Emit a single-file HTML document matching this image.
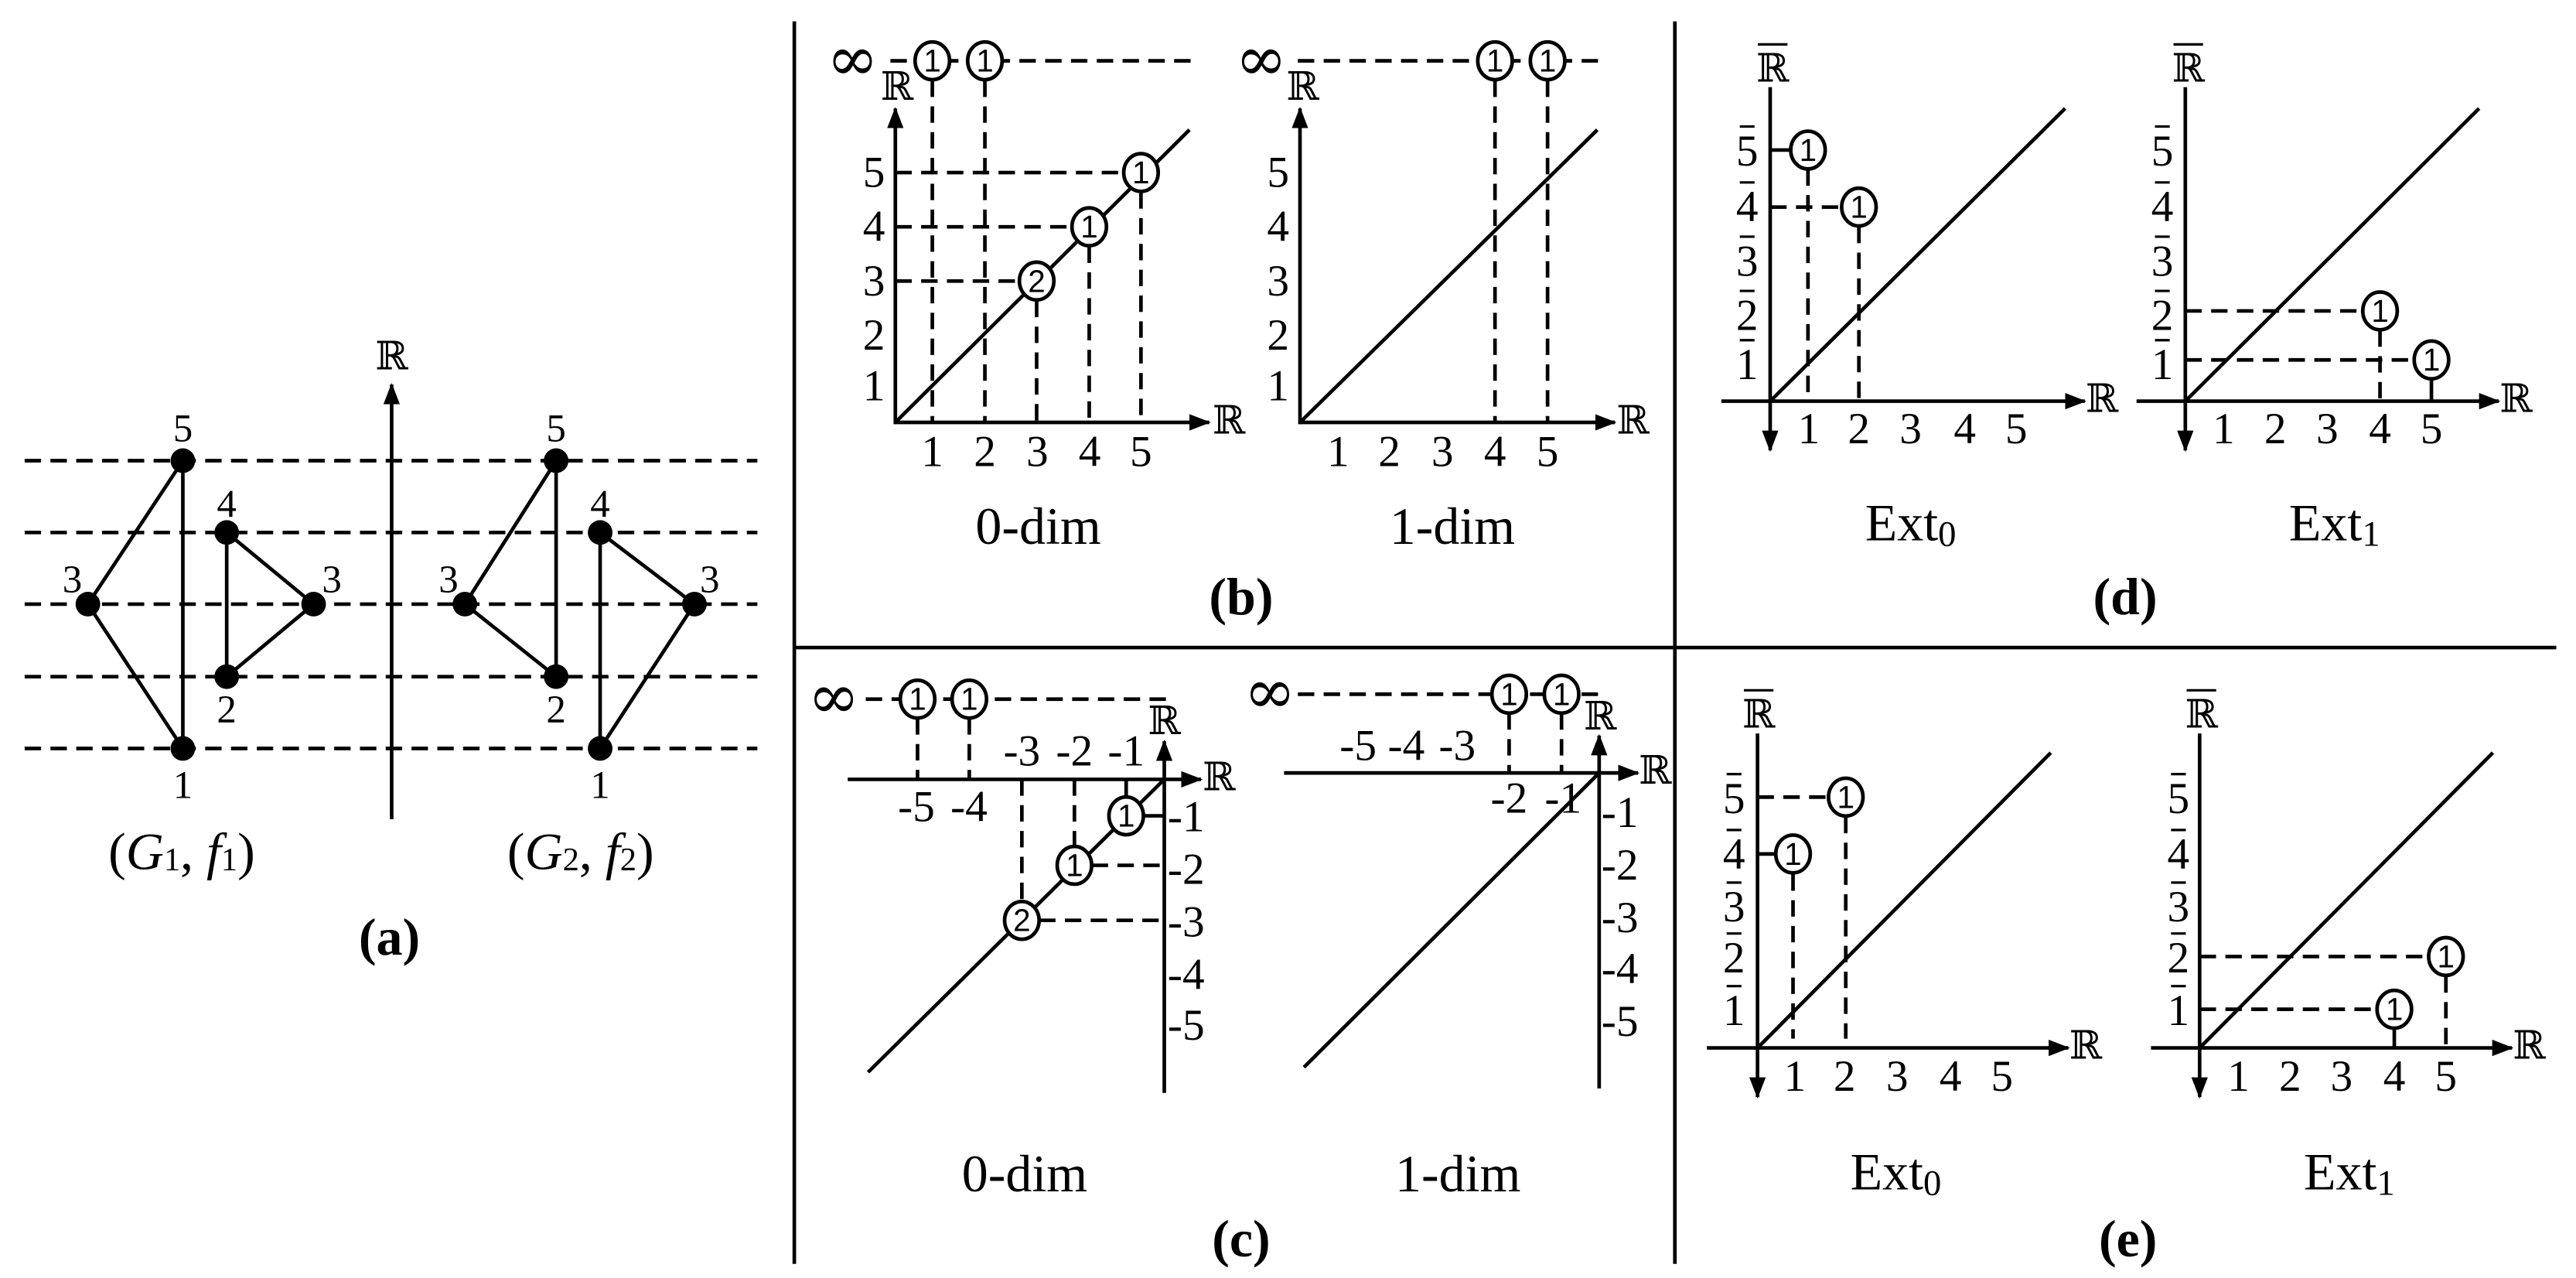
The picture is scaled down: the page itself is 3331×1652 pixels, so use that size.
<!DOCTYPE html>
<html><head><meta charset="utf-8"><style>
html,body{margin:0;padding:0;background:#fff;}
svg{display:block;}
.s{stroke:#000;stroke-width:2.2;fill:none;}
.d{stroke:#000;stroke-width:2.2;fill:none;stroke-dasharray:10 5.7;}
.t{font-family:"Liberation Serif","DejaVu Serif",serif;font-size:27px;text-anchor:middle;dominant-baseline:central;fill:#000;}
.r{font-family:"DejaVu Serif","Liberation Serif",serif;font-size:24px;text-anchor:middle;dominant-baseline:central;}
.c{fill:#fff;stroke:#000;stroke-width:2.2;}
.cn{font-family:"Liberation Sans","DejaVu Sans",sans-serif;font-size:19px;text-anchor:middle;dominant-baseline:central;}
.lb{font-family:"Liberation Serif","DejaVu Serif",serif;font-size:32px;text-anchor:middle;dominant-baseline:central;}
.bd{font-weight:bold;}
.inf{font-family:"DejaVu Serif",serif;font-size:38px;text-anchor:middle;dominant-baseline:central;}
</style></head><body>
<svg width="3331" height="1652" viewBox="0 0 1568 777.6" preserveAspectRatio="none" xmlns="http://www.w3.org/2000/svg">
<defs>
<marker id="ar" viewBox="0 0 13 10" refX="12" refY="5" markerWidth="13" markerHeight="10" markerUnits="userSpaceOnUse" orient="auto"><path d="M0,0 L13,5 L0,10 Z" fill="#000"/></marker>
</defs>

<line class="s" x1="483.5" y1="13" x2="483.5" y2="769"/>
<line class="s" x1="1019.5" y1="13" x2="1019.5" y2="769"/>
<line class="s" x1="483.5" y1="394" x2="1556" y2="394"/>

<!-- (a) -->
<g>
<line class="d" x1="15" y1="280.3" x2="461" y2="280.3"/>
<line class="d" x1="15" y1="324" x2="461" y2="324"/>
<line class="d" x1="15" y1="367.6" x2="461" y2="367.6"/>
<line class="d" x1="15" y1="411.7" x2="461" y2="411.7"/>
<line class="d" x1="15" y1="455.4" x2="461" y2="455.4"/>
<line class="s" x1="238.4" y1="498.5" x2="238.4" y2="234" marker-end="url(#ar)"/>
<text class="r" x="238.4" y="217">ℝ</text>
<polyline class="s" points="111.3,280.3 53.5,367.6 111.3,455.4 111.3,280.3"/>
<polyline class="s" points="138,324 190.9,367.6 138,411.7 138,324"/>
<circle cx="111.3" cy="280.3" r="7.5"/><circle cx="111.3" cy="455.4" r="7.5"/>
<circle cx="53.5" cy="367.6" r="7.5"/><circle cx="138" cy="324" r="7.5"/>
<circle cx="138" cy="411.7" r="7.5"/><circle cx="190.9" cy="367.6" r="7.5"/>
<text class="t" style="font-size:24px" x="111.3" y="261">5</text>
<text class="t" style="font-size:24px" x="138" y="307">4</text>
<text class="t" style="font-size:24px" x="44" y="353">3</text>
<text class="t" style="font-size:24px" x="202" y="353">3</text>
<text class="t" style="font-size:24px" x="138" y="432">2</text>
<text class="t" style="font-size:24px" x="111.3" y="478">1</text>
<polyline class="s" points="338.5,280.3 283,367.6 338.5,411.7 338.5,280.3"/>
<polyline class="s" points="365.3,324 422.7,367.6 365.3,455.4 365.3,324"/>
<circle cx="338.5" cy="280.3" r="7.5"/><circle cx="338.5" cy="411.7" r="7.5"/>
<circle cx="283" cy="367.6" r="7.5"/><circle cx="365.3" cy="324" r="7.5"/>
<circle cx="365.3" cy="455.4" r="7.5"/><circle cx="422.7" cy="367.6" r="7.5"/>
<text class="t" style="font-size:24px" x="338.5" y="261">5</text>
<text class="t" style="font-size:24px" x="365.3" y="307">4</text>
<text class="t" style="font-size:24px" x="273" y="353">3</text>
<text class="t" style="font-size:24px" x="432" y="353">3</text>
<text class="t" style="font-size:24px" x="338.5" y="432">2</text>
<text class="t" style="font-size:24px" x="365.3" y="478">1</text>
<text class="lb" x="110.6" y="518">(<tspan font-style="italic">G</tspan><tspan font-size="20" dy="5">1</tspan><tspan dy="-5">, </tspan><tspan font-style="italic">f</tspan><tspan font-size="20" dy="5">1</tspan><tspan dy="-5">)</tspan></text>
<text class="lb" x="353.4" y="518">(<tspan font-style="italic">G</tspan><tspan font-size="20" dy="5">2</tspan><tspan dy="-5">, </tspan><tspan font-style="italic">f</tspan><tspan font-size="20" dy="5">2</tspan><tspan dy="-5">)</tspan></text>
<text class="lb bd" x="237" y="570">(a)</text>
</g>

<!-- (b) 0-dim -->
<g>
<line class="d" x1="542" y1="37" x2="728" y2="37"/>
<text class="inf" x="519" y="36">∞</text>
<line class="d" x1="567.5" y1="49" x2="567.5" y2="257"/>
<line class="d" x1="599.5" y1="49" x2="599.5" y2="257"/>
<line class="d" x1="545" y1="105" x2="684" y2="105"/>
<line class="d" x1="545" y1="138" x2="652" y2="138"/>
<line class="d" x1="545" y1="171" x2="620" y2="171"/>
<line class="d" x1="694.5" y1="117" x2="694.5" y2="257"/>
<line class="d" x1="663" y1="150" x2="663" y2="257"/>
<line class="d" x1="631" y1="183" x2="631" y2="257"/>
<line class="s" x1="545" y1="257" x2="724" y2="79"/>
<line class="s" x1="545" y1="258" x2="545" y2="66" marker-end="url(#ar)"/>
<line class="s" x1="544" y1="257" x2="736" y2="257" marker-end="url(#ar)"/>
<text class="r" x="546" y="53">ℝ</text>
<text class="r" x="748" y="256">ℝ</text>
<ellipse class="c" cx="567.5" cy="37" rx="10.5" ry="11.5"/><text class="cn" x="567.5" y="37">1</text>
<ellipse class="c" cx="599.5" cy="37" rx="10.5" ry="11.5"/><text class="cn" x="599.5" y="37">1</text>
<ellipse class="c" cx="694.5" cy="105" rx="10.5" ry="11.5"/><text class="cn" x="694.5" y="105">1</text>
<ellipse class="c" cx="663" cy="138" rx="10.5" ry="11.5"/><text class="cn" x="663" y="138">1</text>
<ellipse class="c" cx="631" cy="171" rx="10.5" ry="11.5"/><text class="cn" x="631" y="171">2</text>
<text class="t" x="567.5" y="275">1</text><text class="t" x="599.5" y="275">2</text><text class="t" x="631.4" y="275">3</text><text class="t" x="663.3" y="275">4</text><text class="t" x="694.5" y="275">5</text>
<text class="t" x="532" y="105">5</text><text class="t" x="532" y="138">4</text><text class="t" x="532" y="171">3</text><text class="t" x="532" y="204">2</text><text class="t" x="532" y="235">1</text>
<text class="lb" x="632" y="320">0-dim</text>
</g>
<!-- (b) 1-dim -->
<g>
<line class="d" x1="790" y1="37" x2="974" y2="37"/>
<text class="inf" x="767.7" y="36">∞</text>
<line class="d" x1="910" y1="49" x2="910" y2="257"/>
<line class="d" x1="942" y1="49" x2="942" y2="257"/>
<line class="s" x1="791.3" y1="257" x2="972.3" y2="79"/>
<line class="s" x1="791.3" y1="258" x2="791.3" y2="66" marker-end="url(#ar)"/>
<line class="s" x1="790.3" y1="257" x2="983" y2="257" marker-end="url(#ar)"/>
<text class="r" x="793" y="53">ℝ</text>
<text class="r" x="994" y="256">ℝ</text>
<ellipse class="c" cx="910" cy="37" rx="10.5" ry="11.5"/><text class="cn" x="910" y="37">1</text>
<ellipse class="c" cx="942" cy="37" rx="10.5" ry="11.5"/><text class="cn" x="942" y="37">1</text>
<text class="t" x="814.5" y="275">1</text><text class="t" x="845.7" y="275">2</text><text class="t" x="878" y="275">3</text><text class="t" x="910" y="275">4</text><text class="t" x="942" y="275">5</text>
<text class="t" x="778" y="105">5</text><text class="t" x="778" y="138">4</text><text class="t" x="778" y="171">3</text><text class="t" x="778" y="204">2</text><text class="t" x="778" y="235">1</text>
<text class="lb" x="884" y="320">1-dim</text>
</g>
<text class="lb bd" x="755.5" y="363">(b)</text>

<!-- (c) 0-dim -->
<g>
<line class="d" x1="527" y1="425.4" x2="711" y2="425.4"/>
<text class="inf" x="507.5" y="424">∞</text>
<line class="d" x1="558.5" y1="437" x2="558.5" y2="474.2"/>
<line class="d" x1="590" y1="437" x2="590" y2="474.2"/>
<line class="d" x1="622" y1="474.2" x2="622" y2="548"/>
<line class="d" x1="654" y1="474.2" x2="654" y2="515"/>
<line class="s" x1="685.5" y1="474.2" x2="685.5" y2="485"/>
<line class="s" x1="696" y1="496.4" x2="708.7" y2="496.4"/>
<line class="d" x1="664.5" y1="526.5" x2="708.7" y2="526.5"/>
<line class="d" x1="632.5" y1="560" x2="708.7" y2="560"/>
<line class="s" x1="528.4" y1="652.4" x2="708.7" y2="474.2"/>
<line class="s" x1="708.7" y1="665" x2="708.7" y2="451" marker-end="url(#ar)"/>
<line class="s" x1="516" y1="474.2" x2="731" y2="474.2" marker-end="url(#ar)"/>
<text class="r" x="708.7" y="439">ℝ</text>
<text class="r" x="742" y="473">ℝ</text>
<ellipse class="c" cx="558.5" cy="425.4" rx="10.5" ry="11.5"/><text class="cn" x="558.5" y="425.4">1</text>
<ellipse class="c" cx="590" cy="425.4" rx="10.5" ry="11.5"/><text class="cn" x="590" y="425.4">1</text>
<ellipse class="c" cx="685.5" cy="496.4" rx="10.5" ry="11.5"/><text class="cn" x="685.5" y="496.4">1</text>
<ellipse class="c" cx="654" cy="526.5" rx="10.5" ry="11.5"/><text class="cn" x="654" y="526.5">1</text>
<ellipse class="c" cx="622" cy="560" rx="10.5" ry="11.5"/><text class="cn" x="622" y="560">2</text>
<text class="t" x="622" y="457">-3</text><text class="t" x="654" y="457">-2</text><text class="t" x="685.5" y="457">-1</text>
<text class="t" x="557.8" y="491">-5</text><text class="t" x="589.8" y="491">-4</text>
<text class="t" x="722" y="497">-1</text><text class="t" x="722" y="529">-2</text><text class="t" x="722" y="561">-3</text><text class="t" x="722" y="593">-4</text><text class="t" x="722" y="624">-5</text>
<text class="lb" x="623.7" y="714">0-dim</text>
</g>
<!-- (c) 1-dim -->
<g>
<line class="d" x1="790" y1="422.4" x2="974" y2="422.4"/>
<text class="inf" x="773" y="421">∞</text>
<line class="d" x1="918.6" y1="434" x2="918.6" y2="470.3"/>
<line class="d" x1="950.5" y1="434" x2="950.5" y2="470.3"/>
<line class="s" x1="793.7" y1="649.4" x2="973.4" y2="470.3"/>
<line class="s" x1="973.4" y1="662.3" x2="973.4" y2="447.6" marker-end="url(#ar)"/>
<line class="s" x1="781.6" y1="470.3" x2="997" y2="470.3" marker-end="url(#ar)"/>
<text class="r" x="974" y="436">ℝ</text>
<text class="r" x="1007.5" y="469">ℝ</text>
<ellipse class="c" cx="918.6" cy="422.4" rx="10.5" ry="11.5"/><text class="cn" x="918.6" y="422.4">1</text>
<ellipse class="c" cx="950.5" cy="422.4" rx="10.5" ry="11.5"/><text class="cn" x="950.5" y="422.4">1</text>
<text class="t" x="826.7" y="453.7">-5</text><text class="t" x="856" y="453.7">-4</text><text class="t" x="887" y="453.7">-3</text>
<text class="t" x="918.6" y="485.8">-2</text><text class="t" x="951.5" y="485.8">-1</text>
<text class="t" x="986" y="494.4">-1</text><text class="t" x="986" y="526.5">-2</text><text class="t" x="986" y="558.6">-3</text><text class="t" x="986" y="589.5">-4</text><text class="t" x="986" y="621.5">-5</text>
<text class="lb" x="887.4" y="714">1-dim</text>
</g>
<text class="lb bd" x="755.5" y="753.6">(c)</text>

<!-- (d) Ext0 -->
<g>
<line class="d" x1="1100.5" y1="103" x2="1100.5" y2="244"/>
<line class="d" x1="1131.5" y1="138" x2="1131.5" y2="244"/>
<line class="s" x1="1077.5" y1="91.3" x2="1090" y2="91.3"/>
<line class="d" x1="1077.5" y1="126" x2="1121" y2="126"/>
<line class="s" x1="1077.5" y1="244.1" x2="1257" y2="66"/>
<line class="s" x1="1077.5" y1="53" x2="1077.5" y2="274" marker-end="url(#ar)"/>
<line class="s" x1="1047.8" y1="244.1" x2="1269" y2="244.1" marker-end="url(#ar)"/>
<text class="r" x="1079" y="42">ℝ</text><line x1="1070" y1="27" x2="1088" y2="27" stroke="#000" stroke-width="1.5"/>
<text class="r" x="1279.5" y="243">ℝ</text>
<ellipse class="c" cx="1100.5" cy="91.3" rx="10.5" ry="11.5"/><text class="cn" x="1100.5" y="91.3">1</text>
<ellipse class="c" cx="1131.5" cy="126" rx="10.5" ry="11.5"/><text class="cn" x="1131.5" y="126">1</text>
<text class="t" x="1101" y="261">1</text><text class="t" x="1131.5" y="261">2</text><text class="t" x="1163" y="261">3</text><text class="t" x="1196" y="261">4</text><text class="t" x="1227.3" y="261">5</text>
<text class="t" x="1063.5" y="92">5</text><text class="t" x="1063.5" y="126">4</text><text class="t" x="1063.5" y="159">3</text><text class="t" x="1063.5" y="192">2</text><text class="t" x="1063.5" y="222">1</text>
<path class="s" style="stroke-width:1.5" d="M1059,77h9M1059,111h9M1059,144h9M1059,177h9M1059,207h9"/>
<text class="lb" x="1163" y="318">Ext<tspan font-size="22" dy="7">0</tspan></text>
</g>
<!-- (d) Ext1 -->
<g>
<line class="d" x1="1330.2" y1="189.2" x2="1438" y2="189.2"/>
<line class="d" x1="1330.2" y1="219" x2="1469.5" y2="219"/>
<line class="d" x1="1448.7" y1="201" x2="1448.7" y2="244"/>
<line class="s" x1="1480" y1="231" x2="1480" y2="244"/>
<line class="s" x1="1330.2" y1="244.1" x2="1509" y2="66"/>
<line class="s" x1="1330.2" y1="53" x2="1330.2" y2="274" marker-end="url(#ar)"/>
<line class="s" x1="1300.5" y1="244.1" x2="1521" y2="244.1" marker-end="url(#ar)"/>
<text class="r" x="1332" y="42">ℝ</text><line x1="1323" y1="27" x2="1341" y2="27" stroke="#000" stroke-width="1.5"/>
<text class="r" x="1531.5" y="243">ℝ</text>
<ellipse class="c" cx="1448.7" cy="189.2" rx="10.5" ry="11.5"/><text class="cn" x="1448.7" y="189.2">1</text>
<ellipse class="c" cx="1480" cy="219" rx="10.5" ry="11.5"/><text class="cn" x="1480" y="219">1</text>
<text class="t" x="1353.5" y="261">1</text><text class="t" x="1385" y="261">2</text><text class="t" x="1416.6" y="261">3</text><text class="t" x="1448.7" y="261">4</text><text class="t" x="1480" y="261">5</text>
<text class="t" x="1316.2" y="92">5</text><text class="t" x="1316.2" y="126">4</text><text class="t" x="1316.2" y="159">3</text><text class="t" x="1316.2" y="192">2</text><text class="t" x="1316.2" y="222">1</text>
<path class="s" style="stroke-width:1.5" d="M1311.7,77h9M1311.7,111h9M1311.7,144h9M1311.7,177h9M1311.7,207h9"/>
<text class="lb" x="1421" y="318">Ext<tspan font-size="22" dy="7">1</tspan></text>
</g>
<text class="lb bd" x="1293.6" y="363">(d)</text>

<!-- (e) Ext0 -->
<g>
<line class="d" x1="1069.8" y1="485" x2="1113" y2="485"/>
<line class="s" x1="1069.8" y1="519.6" x2="1081" y2="519.6"/>
<line class="d" x1="1123.5" y1="497" x2="1123.5" y2="632"/>
<line class="d" x1="1091.4" y1="532" x2="1091.4" y2="632"/>
<line class="s" x1="1069.8" y1="637.6" x2="1248.3" y2="458"/>
<line class="s" x1="1069.8" y1="446.3" x2="1069.8" y2="667.5" marker-end="url(#ar)"/>
<line class="s" x1="1039" y1="637.6" x2="1259" y2="637.6" marker-end="url(#ar)"/>
<text class="r" x="1070.5" y="435">ℝ</text><line x1="1061.5" y1="420" x2="1079.5" y2="420" stroke="#000" stroke-width="1.5"/>
<text class="r" x="1269.5" y="636.5">ℝ</text>
<ellipse class="c" cx="1123.5" cy="485" rx="10.5" ry="11.5"/><text class="cn" x="1123.5" y="485">1</text>
<ellipse class="c" cx="1091.4" cy="519.6" rx="10.5" ry="11.5"/><text class="cn" x="1091.4" y="519.6">1</text>
<text class="t" x="1092.5" y="655">1</text><text class="t" x="1122.8" y="655">2</text><text class="t" x="1154.8" y="655">3</text><text class="t" x="1187.3" y="655">4</text><text class="t" x="1218.6" y="655">5</text>
<text class="t" x="1055.5" y="486">5</text><text class="t" x="1055.5" y="520">4</text><text class="t" x="1055.5" y="552">3</text><text class="t" x="1055.5" y="583">2</text><text class="t" x="1055.5" y="615">1</text>
<path class="s" style="stroke-width:1.5" d="M1051,471h9M1051,505h9M1051,537h9M1051,568h9M1051,600h9"/>
<text class="lb" x="1154" y="713">Ext<tspan font-size="22" dy="7">0</tspan></text>
</g>
<!-- (e) Ext1 -->
<g>
<line class="d" x1="1338.9" y1="582" x2="1478" y2="582"/>
<line class="d" x1="1338.9" y1="614.1" x2="1447" y2="614.1"/>
<line class="d" x1="1488.8" y1="594" x2="1488.8" y2="637.6"/>
<line class="s" x1="1457.4" y1="626" x2="1457.4" y2="637.6"/>
<line class="s" x1="1338.9" y1="637.6" x2="1517.4" y2="458"/>
<line class="s" x1="1338.9" y1="446.3" x2="1338.9" y2="667.5" marker-end="url(#ar)"/>
<line class="s" x1="1309.3" y1="637.6" x2="1529" y2="637.6" marker-end="url(#ar)"/>
<text class="r" x="1340" y="435">ℝ</text><line x1="1331" y1="420" x2="1349" y2="420" stroke="#000" stroke-width="1.5"/>
<text class="r" x="1539.5" y="636.5">ℝ</text>
<ellipse class="c" cx="1488.8" cy="582" rx="10.5" ry="11.5"/><text class="cn" x="1488.8" y="582">1</text>
<ellipse class="c" cx="1457.4" cy="614.1" rx="10.5" ry="11.5"/><text class="cn" x="1457.4" y="614.1">1</text>
<text class="t" x="1362.6" y="655">1</text><text class="t" x="1394" y="655">2</text><text class="t" x="1425.3" y="655">3</text><text class="t" x="1457.4" y="655">4</text><text class="t" x="1488.8" y="655">5</text>
<text class="t" x="1326" y="486">5</text><text class="t" x="1326" y="520">4</text><text class="t" x="1326" y="552">3</text><text class="t" x="1326" y="583">2</text><text class="t" x="1326" y="615">1</text>
<path class="s" style="stroke-width:1.5" d="M1321.5,471h9M1321.5,505h9M1321.5,537h9M1321.5,568h9M1321.5,600h9"/>
<text class="lb" x="1430" y="713">Ext<tspan font-size="22" dy="7">1</tspan></text>
</g>
<text class="lb bd" x="1295.3" y="753.6">(e)</text>
</svg>
</body></html>
